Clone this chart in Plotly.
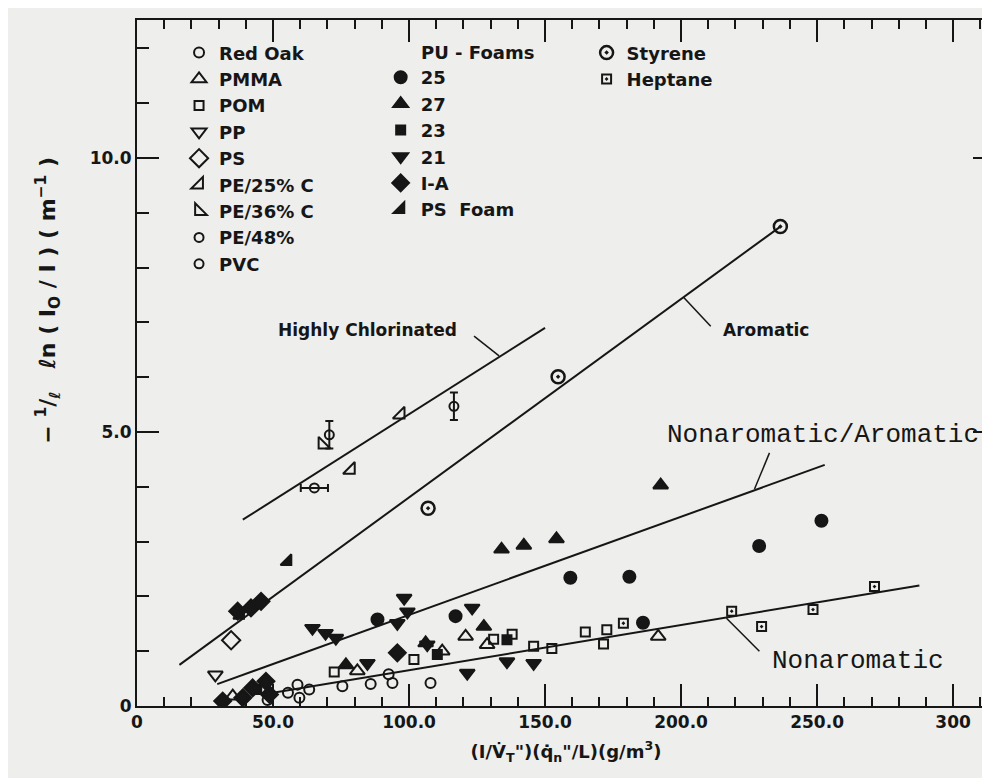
import plotly.graph_objects as go

# ---------------- data ----------------
red_oak_x = [48.0, 55.5, 59.0, 59.7, 63.3, 75.5, 85.9, 92.5, 93.9, 107.9]
red_oak_y = [0.11, 0.24, 0.39, 0.15, 0.30, 0.36, 0.40, 0.58, 0.42, 0.42]
pmma_x = [35.2, 81.0, 112.2, 120.8, 128.7, 191.6]
pmma_y = [0.18, 0.64, 1.00, 1.27, 1.12, 1.27]
pom_x = [72.5, 101.8, 131.1, 137.9, 145.8, 152.5, 164.8, 171.5, 172.7]
pom_y = [0.62, 0.85, 1.22, 1.31, 1.09, 1.05, 1.35, 1.13, 1.39]
pp_x = [28.8]
pp_y = [0.57]
ps_x = [34.6]
ps_y = [1.20]
pe25_x = [78.6, 96.9]
pe25_y = [4.31, 5.32]
pe36_x = [68.2]
pe36_y = [4.77]
pe48_x = [65.2]
pe48_y = [3.98]
pe48_err = 5.0
pvc_x = [70.7, 116.5]
pvc_y = [4.95, 5.47]
pvc_err = 0.25

pu25_x = [88.4, 117.1, 159.3, 181.0, 186.0, 228.7, 251.6]
pu25_y = [1.58, 1.64, 2.34, 2.36, 1.52, 2.92, 3.38]
pu27_x = [76.8, 106.1, 127.5, 134.0, 142.2, 154.2, 192.5]
pu27_y = [0.75, 1.15, 1.45, 2.86, 2.93, 3.05, 4.03]
pu23_x = [44.0, 110.4, 136.0]
pu23_y = [0.30, 0.94, 1.21]
pu21_x = [64.5, 69.3, 73.1, 84.7, 95.7, 98.2, 99.4, 106.7, 121.4, 123.2, 136.0, 145.8]
pu21_y = [1.42, 1.33, 1.24, 0.78, 1.51, 1.97, 1.72, 1.12, 0.60, 1.79, 0.81, 0.78]
ia_x = [31.5, 37.0, 38.9, 41.9, 42.5, 45.6, 47.4, 48.7, 95.7]
ia_y = [0.09, 1.73, 0.15, 1.79, 0.33, 1.91, 0.45, 0.21, 0.97]
psfoam_x = [38.0, 55.4]
psfoam_y = [1.66, 2.64]

styrene_x = [107.0, 154.8, 236.5]
styrene_y = [3.61, 6.01, 8.75]
heptane_x = [178.8, 218.6, 229.6, 248.5, 271.1]
heptane_y = [1.51, 1.73, 1.45, 1.76, 2.18]

# correlation lines (end points)
chlor_x = [38.9, 150.0]
chlor_y = [3.40, 6.90]
arom_x = [15.6, 236.5]
arom_y = [0.75, 8.75]
mixed_x = [29.5, 252.8]
mixed_y = [0.40, 4.40]
nonarom_x = [50.0, 287.6]
nonarom_y = [0.24, 2.20]

x_tick_vals = [0, 50, 100, 150, 200, 250, 300]
x_tick_text = ["0", "50.0", "100.0", "150.0", "200.0", "250.0", "300"]
y_tick_vals = [0, 5, 10]
y_tick_text = ["0", "5.0", "10.0"]

# line labels: text, text position, leader start, leader end
line_labels = [
    ("Highly Chlorinated", (84.7, 6.86), (123.9, 6.75), (133.1, 6.39), "sans"),
    ("Aromatic", (231.4, 6.86), (210.9, 6.93), (200.9, 7.46), "sans"),
    ("Nonaromatic/Aromatic", (252.2, 4.95), (232.5, 4.62), (227.0, 3.96), "mono"),
    ("Nonaromatic", (265.0, 0.82), (228.8, 1.00), (216.7, 1.60), "mono"),
]

# ---------------- styling ----------------
INK = "#161616"
BG = "#eeeeec"
SANS = "DejaVu Sans"
MONO = "Liberation Mono"

fig = go.Figure()


def add_points(name, x, y, symbol, size, legend, lw=2, **kw):
    fig.add_trace(go.Scatter(
        x=x, y=y, mode="markers", name=name, legend=legend,
        marker=dict(symbol=symbol, size=size, color=INK,
                    line=dict(color=INK, width=lw)),
        **kw))


for lx, ly in [(chlor_x, chlor_y), (arom_x, arom_y), (mixed_x, mixed_y), (nonarom_x, nonarom_y)]:
    fig.add_trace(go.Scatter(x=lx, y=ly, mode="lines", showlegend=False,
                             line=dict(color=INK, width=2), hoverinfo="skip"))

add_points("Red Oak", red_oak_x, red_oak_y, "circle-open", 10, "legend")
add_points("PMMA", pmma_x, pmma_y, "triangle-up-open", 13, "legend")
add_points("POM", pom_x, pom_y, "square-open", 9, "legend")
add_points("PP", pp_x, pp_y, "triangle-down-open", 13, "legend")
add_points("PS", ps_x, ps_y, "diamond-open", 14, "legend")
add_points("PE/25% C", pe25_x, pe25_y, "triangle-se-open", 13, "legend")
add_points("PE/36% C", pe36_x, pe36_y, "triangle-sw-open", 13, "legend")
add_points("PE/48%", pe48_x, pe48_y, "circle-open", 9, "legend",
           error_x=dict(type="constant", value=pe48_err, color=INK, thickness=2, width=4))
add_points("PVC", pvc_x, pvc_y, "circle-open", 9, "legend",
           error_y=dict(type="constant", value=pvc_err, color=INK, thickness=2, width=4))

add_points("25", pu25_x, pu25_y, "circle", 12, "legend2")
add_points("27", pu27_x, pu27_y, "triangle-up", 13, "legend2")
add_points("23", pu23_x, pu23_y, "square", 9, "legend2")
add_points("21", pu21_x, pu21_y, "triangle-down", 13, "legend2")
add_points("I-A", ia_x, ia_y, "diamond", 13, "legend2")
add_points("PS  Foam", psfoam_x, psfoam_y, "triangle-se", 12, "legend2")

add_points("Styrene", styrene_x, styrene_y, "circle-open-dot", 13, "legend3", lw=2.5)
add_points("Heptane", heptane_x, heptane_y, "square-open-dot", 9, "legend3")

annotations = []
shapes = []
for text, (tx, ty), (sx, sy), (ex, ey), kind in line_labels:
    if kind == "sans":
        f = dict(family=SANS, size=17, color=INK, weight="bold")
    else:
        f = dict(family=MONO, size=26, color=INK)
    annotations.append(dict(x=tx, y=ty, xref="x", yref="y", text=text,
                            showarrow=False, font=f, xanchor="center", yanchor="middle"))
    shapes.append(dict(type="line", xref="x", yref="y", x0=sx, y0=sy, x1=ex, y1=ey,
                       line=dict(color=INK, width=1.5)))

annotations.append(dict(x=0.329, y=0.952, xref="paper", yref="paper", text="PU - Foams",
                        showarrow=False, xanchor="left", yanchor="middle",
                        font=dict(family=SANS, size=18, color=INK, weight="bold")))
annotations.append(dict(x=-0.104, y=0.592, xref="paper", yref="paper",
                        text="− <sup>1</sup>/<sub>ℓ</sub>   ℓn ( I<sub>O</sub> / I ) ( m<sup>−1</sup> )",
                        textangle=-90, showarrow=False, xanchor="center", yanchor="middle",
                        font=dict(family=SANS, size=22, color=INK, weight="bold")))

axis_common = dict(showline=True, linewidth=2, linecolor=INK, mirror="ticks",
                   showgrid=False, zeroline=False, ticks="inside", tickwidth=2,
                   tickcolor=INK, ticklen=22,
                   tickfont=dict(family=SANS, size=17, color=INK, weight="bold"))

legend_font = dict(family=SANS, size=18, color=INK, weight="bold")
legend_common = dict(bgcolor="rgba(0,0,0,0)", borderwidth=0, font=legend_font,
                     xanchor="left", yanchor="top", tracegroupgap=0)

fig.update_layout(
    width=990, height=778, autosize=False,
    margin=dict(l=129, r=1, t=12, b=80, pad=0),
    paper_bgcolor=BG, plot_bgcolor=BG,
    xaxis=dict(range=[0, 315.4], tickmode="array", tickvals=x_tick_vals, ticktext=x_tick_text,
               minor=dict(ticks="inside", ticklen=9, tickwidth=2, tickcolor=INK,
                          tick0=0, dtick=10, showgrid=False),
               title=dict(text="(I/V̇<sub>T</sub>\")(q̇<sub>n</sub>\"/L)(g/m<sup>3</sup>)",
                          font=dict(family=SANS, size=18, color=INK, weight="bold"),
                          standoff=14),
               **axis_common),
    yaxis=dict(range=[0, 12.52], tickmode="array", tickvals=y_tick_vals, ticktext=y_tick_text,
               minor=dict(ticks="inside", ticklen=12, tickwidth=2, tickcolor=INK,
                          tick0=0, dtick=1, showgrid=False),
               **axis_common),
    legend=dict(x=0.049, y=0.979, **legend_common),
    legend2=dict(x=0.284, y=0.943, **legend_common),
    legend3=dict(x=0.524, y=0.979, **legend_common),
    annotations=annotations,
    shapes=shapes,
)

fig.write_html("out.html")
